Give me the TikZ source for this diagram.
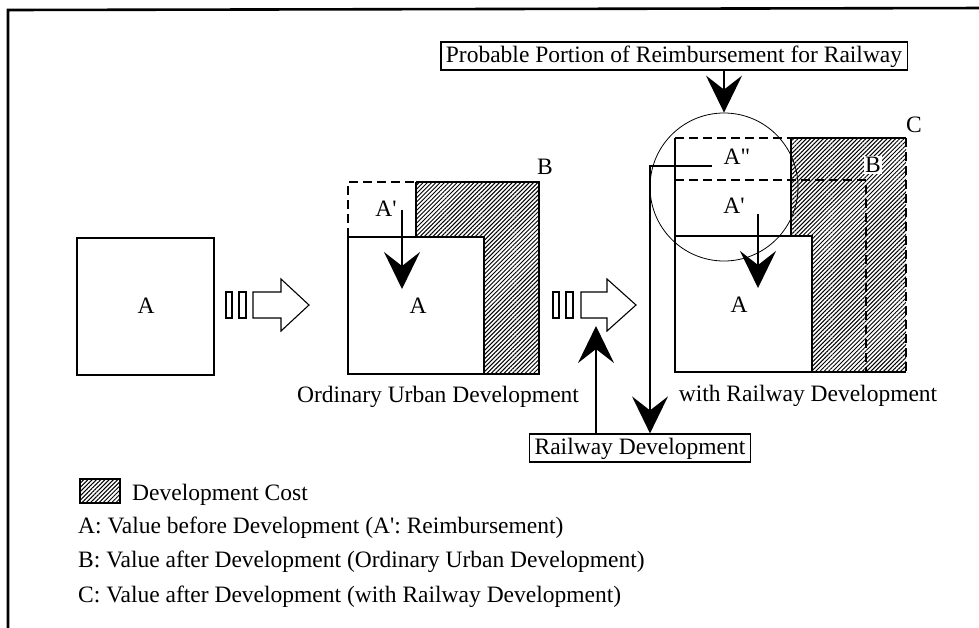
\documentclass[tikz,border=0pt]{standalone}
\usepackage{fontspec}
\setmainfont{Liberation Serif}
\usetikzlibrary{arrows.meta,patterns.meta}
\begin{document}
\begin{tikzpicture}[x=1pt,y=-1pt,
  lbl/.style={inner sep=0pt, font=\fontsize{23.5}{28}\selectfont},
  thickln/.style={line width=2.4pt},
  dashln/.style={line width=2.2pt, dash pattern=on 9pt off 5pt},
  hatch/.style={pattern={Lines[angle=45,distance=3pt,line width=1pt]}},
  bigarrow/.style={line width=1.6pt, -{Stealth[length=37pt,width=36pt,inset=14pt]}},
  hollow/.style={line width=1.1pt, fill=white},
  labbox/.style={draw, line width=1.2pt, inner xsep=5pt, inner ysep=3pt,
    text height=17pt, text depth=5pt, font=\fontsize{23.5}{28}\selectfont}
]
\useasboundingbox (0,0) rectangle (979,627);
% outer frame
\draw[line width=2.6pt] (8,640) -- (8,10) -- (990,8);

% ---- box A
\draw[thickln] (77,238) rectangle (214,375);
\node[lbl] (la) at (146,306) {A};

% ---- hollow arrow 1
\draw[hollow] (226,292) rectangle (232,318);
\draw[hollow] (239,292) rectangle (246,318);
\draw[hollow] (253,292) -- (281,292) -- (281,279) -- (309,305) -- (281,331) -- (281,318) -- (253,318) -- cycle;

% ---- box B
\fill[hatch] (416,182) -- (539,182) -- (539,374) -- (484,374) -- (484,237) -- (416,237) -- cycle;
\draw[thickln] (416,182) -- (539,182) -- (539,374) -- (348,374) -- (348,237) -- (484,237) -- (484,374);
\draw[thickln] (416,182) -- (416,237);
\draw[dashln] (348,237) -- (348,182) -- (416,182);
\node[lbl] (bap) at (386,209) {A\textquotesingle};
\node[lbl] (ba) at (418,306) {A};
\node[lbl] (bb) at (545,167) {B};
\coordinate (b1) at (402,210);
\coordinate (b2) at (402,289);
\draw[bigarrow] (b1) -- (b2);
\node[lbl, anchor=base] (ordt) at (438,402) {Ordinary Urban Development};

% ---- hollow arrow 2
\draw[hollow] (553,292) rectangle (559,318);
\draw[hollow] (566,292) rectangle (573,318);
\draw[hollow] (581,292) -- (607,292) -- (607,279) -- (636,305) -- (607,331) -- (607,318) -- (581,318) -- cycle;

% ---- box C
\fill[hatch] (791,138) -- (906,138) -- (906,372) -- (812,372) -- (812,236) -- (791,236) -- cycle;
\draw[thickln] (791,138) -- (906,138);
\draw[thickln] (906,372) -- (675,372) -- (675,138);
\draw[thickln] (791,138) -- (791,236);
\draw[thickln] (675,236) -- (812,236) -- (812,372);
\draw[dashln] (675,138) -- (791,138);
\draw[dashln] (675,180) -- (866,180) -- (866,372);
\draw[dashln] (906,138) -- (906,372);
\node[lbl] (cadd) at (737,157) {A\textquotedbl};
\node[lbl, fill=white, inner sep=1pt] (cb) at (873,165) {B};
\node[lbl] (cap) at (734,206) {A\textquotesingle};
\node[lbl] (ca) at (739,305) {A};
\node[lbl] (cc) at (914,125) {C};
\coordinate (c1) at (758,214);
\coordinate (c2) at (758,288);
\draw[bigarrow] (c1) -- (c2);
\node[circle, draw, line width=0.8pt, minimum size=148pt, inner sep=0pt] (cir) at (724,187) {};
\node[lbl, anchor=base] (witht) at (808,401) {with Railway Development};

% ---- labelled boxes and connectors
\node[labbox] (prob) at (674,56) {Probable Portion of Reimbursement for Railway};
\draw[bigarrow] (prob.south -| cir.north) -- (cir.north);

\node[labbox] (rail) at (640,448) {Railway Development};
\coordinate (uptip) at (596,326);
\draw[bigarrow] (rail.north -| uptip) -- (uptip);
\coordinate (hstart) at (712,166);
\coordinate (bend) at (650,166);
\draw[bigarrow] (hstart) -- (bend) -- (bend |- rail.north);

% ---- legend
\draw[line width=1.8pt, hatch] (80,479) rectangle (120,503);
\node[lbl, anchor=base west] (l0) at (132,500) {Development Cost};
\node[lbl, anchor=base west] (l1) at (78,533) {A: Value before Development (A\textquotesingle: Reimbursement)};
\node[lbl, anchor=base west] (l2) at (78,567) {B: Value after Development (Ordinary Urban Development)};
\node[lbl, anchor=base west] (l3) at (78,602) {C: Value after Development (with Railway Development)};
\end{tikzpicture}
\end{document}
